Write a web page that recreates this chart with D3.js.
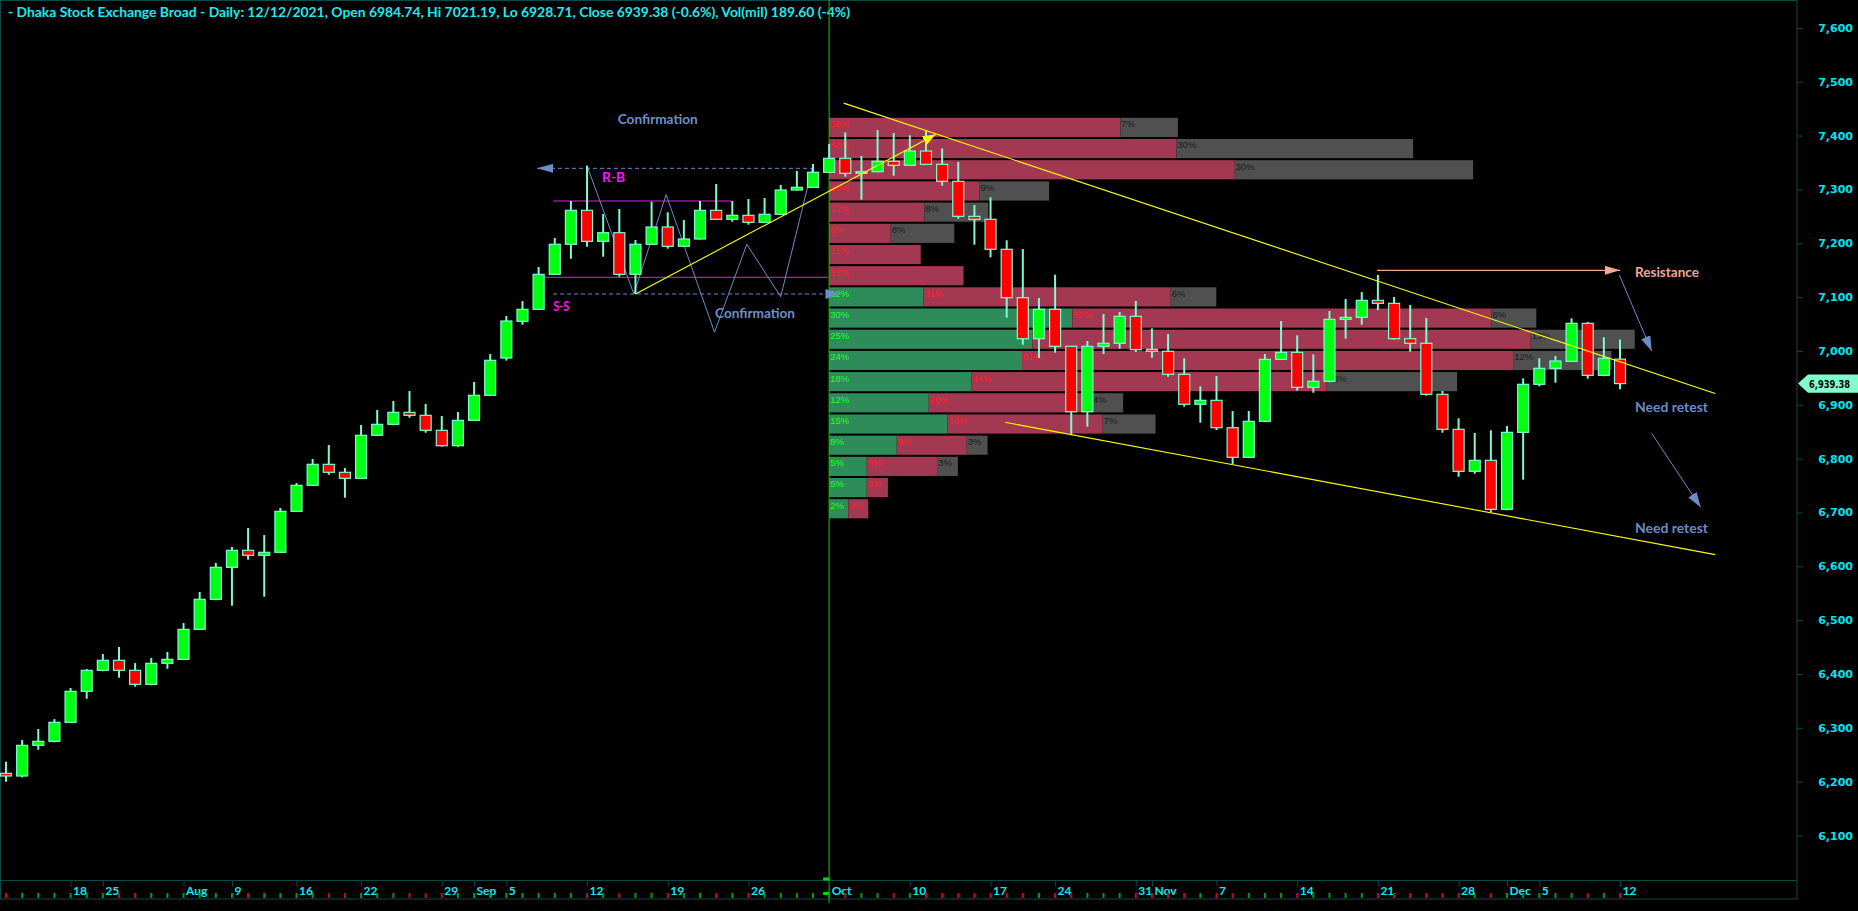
<!DOCTYPE html>
<html><head><meta charset="utf-8">
<script src="https://cdn.jsdelivr.net/npm/d3@7"></script>
<style>
html,body{margin:0;padding:0;background:#000;overflow:hidden}
svg{display:block}
</style></head><body>
<svg id="chart" width="1858" height="911"></svg>
<script>
// ---------------- DATA ----------------
const titleText = "- Dhaka Stock Exchange Broad - Daily: 12/12/2021, Open 6984.74, Hi 7021.19, Lo 6928.71, Close 6939.38 (-0.6%), Vol(mil) 189.60 (-4%)";

const open = [6215.5,6210.5,6267.5,6274.9,6310.2,6367.8,6406.8,6425.4,6406.8,6380.8,
6419.8,6427.2,6482.9,6538.7,6598.1,6629.7,6620.4,6626.0,6702.1,6750.4,
6789.4,6774.6,6763.4,6843.3,6863.7,6886.0,6880.4,6852.6,6824.0,6871.1,
6917.6,6986.8,7055.0,7077.3,7142.3,7198.1,7261.2,7203.6,7219.6,7142.3,
7198.1,7230.2,7194.3,7207.9,7261.2,7244.5,7251.9,7238.9,7253.8,7298.9,
7303.9,7331.8,7357.8,7329.9,7332.9,7352.2,7344.8,7371.3,7346.6,7315.0,
7250.0,7244.5,7188.8,7098.9,7022.7,7077.3,7008.6,6887.1,7008.6,7014.2,
7064.3,7003.0,6999.3,6956.6,6900.9,6908.3,6857.4,6802.4,6869.3,6984.4,
6997.4,6932.4,6943.6,7058.7,7062.4,7094.0,7088.4,7022.7,7014.2,6919.4,
6854.4,6776.4,6796.8,6705.8,6848.8,6938.0,6967.7,6980.7,7051.3,6954.7,
6984.74];
const high = [6237.0,6277.3,6297.8,6316.3,6373.9,6409.2,6437.1,6450.1,6420.3,6429.6,
6440.8,6494.6,6552.2,6606.1,6635.8,6671.1,6658.1,6708.3,6754.7,6799.3,
6825.3,6782.6,6862.4,6890.3,6907.0,6925.6,6901.4,6879.1,6886.5,6942.3,
6994.3,7064.9,7092.7,7155.9,7209.8,7278.5,7344.0,7254.3,7263.6,7206.0,
7277.2,7257.5,7243.2,7278.5,7310.0,7278.5,7282.2,7284.1,7308.2,7334.2,
7347.2,7384.3,7406.1,7362.0,7410.3,7404.8,7400.5,7410.3,7376.3,7350.9,
7271.1,7285.3,7205.5,7189.3,7098.3,7141.6,7009.0,7018.4,7068.6,7072.3,
7092.7,7042.0,7031.4,6986.3,6934.3,6953.4,6888.4,6888.4,6994.3,7055.6,
7029.0,6993.7,7074.2,7096.4,7109.4,7141.0,7100.2,7085.3,7061.2,6925.6,
6874.9,6847.6,6852.6,6860.5,6949.1,6986.3,6990.6,7060.6,7053.7,7025.3,
7021.19];
const low = [6199.9,6208.0,6259.3,6273.0,6309.0,6354.1,6405.0,6393.1,6376.3,6379.0,
6409.7,6426.0,6482.0,6537.0,6526.8,6612.2,6543.5,6625.0,6701.0,6749.0,
6770.1,6727.4,6762.0,6842.0,6862.0,6876.0,6848.1,6822.1,6822.0,6870.0,
6916.0,6982.0,7048.7,7076.0,7141.0,7171.3,7193.6,7175.0,7137.9,7105.8,
7197.0,7189.9,7193.0,7207.0,7243.0,7240.0,7234.5,7238.0,7253.0,7298.0,
7303.0,7331.0,7323.6,7280.9,7332.0,7325.4,7344.0,7346.0,7306.9,7245.6,
7197.3,7173.9,7061.7,7011.5,6986.9,6996.7,6843.8,6859.3,6994.3,7004.0,
6998.0,6987.4,6952.1,6896.4,6866.7,6853.1,6790.0,6801.0,6868.0,6983.0,
6926.1,6922.4,6942.0,7022.7,7048.7,7076.0,7021.0,6998.5,6916.8,6848.1,
6766.4,6771.9,6700.3,6704.0,6760.8,6934.3,6941.0,6980.0,6948.4,6953.0,
6928.71];
const close = [6210.5,6267.5,6274.9,6310.2,6367.8,6406.8,6425.4,6406.8,6380.8,6419.8,
6427.2,6482.9,6538.7,6598.1,6629.7,6620.4,6626.0,6702.1,6750.4,6789.4,
6774.6,6763.4,6843.3,6863.7,6886.0,6880.4,6852.6,6824.0,6871.1,6917.6,
6982.6,7055.6,7077.3,7142.3,7198.1,7261.2,7203.6,7219.6,7142.3,7198.1,
7230.2,7194.3,7207.9,7261.2,7244.5,7251.9,7238.9,7253.8,7298.9,7303.9,
7331.8,7357.8,7329.9,7332.9,7352.2,7344.8,7371.3,7346.6,7315.0,7250.0,
7244.5,7188.8,7098.9,7022.7,7077.3,7008.6,6887.1,7008.6,7014.2,7064.3,
7002.3,6999.3,6956.6,6900.9,6908.3,6857.4,6802.4,6869.3,6984.4,6997.4,
6932.4,6943.6,7058.7,7062.4,7094.0,7088.4,7022.7,7014.2,6919.4,6854.4,
6776.4,6796.8,6705.8,6848.8,6938.0,6967.7,6981.3,7051.3,6954.7,6986.3,
6939.38];

// date axis labels (bar index -> label)
const dateTickIndex = [4,6,11,14,18,22,27,29,31,36,41,46,51,56,61,65,70,71,75,80,85,90,93,95,100];
const dateTickLabel = ["18","25","Aug","9","16","22","29","Sep","5","12","19","26","Oct","10","17","24","31","Nov","7","14","21","28","Dec","5","12"];

// price axis ticks
const priceTicks = [6100,6200,6300,6400,6500,6600,6700,6800,6900,7000,7100,7200,7300,7400,7500,7600];

// volume-at-price profile (% values), rows from the top price level downward
const profileTopPrice = 7433;
const profileRowSize = 39.35;
const profileUp    = [0,0,0,0,0,0,0,0,11.8,30.4,25.4,24.1,17.8,12.45,14.8,8.45,4.7,4.7,2.4];
const profileDown  = [36.4,43.4,50.7,18.8,11.9,7.7,11.45,16.8,30.9,52.4,62.3,61.4,44.4,20.4,19.4,8.75,8.8,2.65,2.5];
const profileOther = [7.2,29.6,29.8,8.7,8.0,7.95,0,0,5.7,5.6,13.0,12.3,16.3,3.9,6.6,2.6,2.6,0,0];
const profileStartIndex = 51;

// annotations in (bar index, price)
const trendUp   = [[39,7105.8],[57.6,7402]];
const trendHigh = [[51.9,7460.3],[105.9,6920.8]];
const trendLow  = [[61.9,6867.5],[105.9,6621.7]];
const zigzag = [[36,7344],[38.9,7105.8],[40.9,7290.2],[43.9,7034.6],[45.9,7198.1],[48,7100.7],[50,7345.4]];
const rbLine = [[32.9,7339.2],[50,7339.2]];
const ssLine = [[33.9,7105.8],[51.7,7105.8]];
const magentaTop = [[33.9,7278.5],[44.96,7278.5]];
const magentaBottom = [[33.27,7136.8],[50.93,7136.8]];
const resistanceLine = [[84.95,7149.8],[100,7149.8]];
const retestArrow1 = [[99.96,7141.0],[101.96,6999.9]];
const retestArrow2 = [[101.96,6847],[105.0,6709.6]];
const labels = [
  {t:"Confirmation", i:37.9, p:7421.6, c:"#6e8fcc", len:80},
  {t:"Confirmation", i:43.93, p:7061, c:"#6e8fcc", len:80},
  {t:"R-B", i:36.93, p:7314.3, c:"#ff10ff", len:23},
  {t:"S-S", i:33.9, p:7074.8, c:"#ff10ff", len:16},
  {t:"Resistance", i:100.93, p:7136.8, c:"#f2a892", len:64},
  {t:"Need retest", i:100.93, p:6887.2, c:"#6a8cc8", len:73},
  {t:"Need retest", i:100.93, p:6662.4, c:"#6a8cc8", len:73}
];

// ---------------- DRAW ----------------
const W = 1858, H = 911;
const plotRight = 1797, plotBottom = 880, axisBottom = 899;
const borderCol = "#0f4848";
const wickCol = "#7dfcd2";

const x = d3.scaleLinear().domain([0,100]).range([6,1620]);
const y = d3.scaleLinear().domain([6100,7600]).range([835.5,27.9]);
const pct = d3.scaleLinear().domain([0,1]).range([0,8.0]);
const line = d3.line().x(d=>x(d[0])).y(d=>y(d[1]));

const svg = d3.select("#chart");
svg.append("rect").attr("width",W).attr("height",H).attr("fill","#000");

const defs = svg.append("defs");
function marker(id, color, len, wid, orient){
  defs.append("marker").attr("id",id).attr("markerUnits","userSpaceOnUse")
    .attr("markerWidth",len).attr("markerHeight",wid)
    .attr("refX",len).attr("refY",wid/2).attr("orient",orient||"auto")
    .attr("viewBox",`0 0 ${len} ${wid}`)
    .append("path").attr("d",`M0,0 L${len},${wid/2} L0,${wid} Z`).attr("fill",color);
}
marker("hYellow","#ffff00",13,10);
marker("hBlue","#6a8cc8",15,10);
marker("hBlueStart","#6a8cc8",16,9,"auto-start-reverse");
marker("hSalmon","#f2a892",15,9);

// frame
const frame = svg.append("g");
frame.append("rect").attr("x",0.5).attr("y",0.5).attr("width",plotRight-0.5).attr("height",axisBottom-0.5)
  .attr("fill","none").attr("stroke",borderCol);
frame.append("line").attr("x1",0).attr("x2",plotRight).attr("y1",plotBottom+0.5).attr("y2",plotBottom+0.5).attr("stroke",borderCol);

// title
svg.append("text").attr("x",8).attr("y",17).text(titleText)
  .attr("fill","#1eeaf0").attr("font-family","Lato, 'Open Sans', sans-serif").attr("font-weight","bold")
  .attr("font-size",12.5).attr("textLength",842).attr("lengthAdjust","spacingAndGlyphs");

// profile
const prof = svg.append("g");
const px0 = x(profileStartIndex);
profileUp.forEach((u,i)=>{
  const top = profileTopPrice - i*profileRowSize;
  const yy = y(top), hh = y(top-profileRowSize) - y(top) - 2;
  const segs = [[u,"#2e8b5a","#22ff22"],[profileDown[i],"#a23852","#ff2424"],[profileOther[i],"#505050","#1c1c1c"]];
  let cx = px0;
  segs.forEach(([v,fill,tc])=>{
    if(!v) return;
    const w = pct(v);
    prof.append("rect").attr("x",cx).attr("y",yy).attr("width",w).attr("height",hh).attr("fill",fill);
    prof.append("text").attr("x",cx+1).attr("y",yy+9.5).text(Math.round(v)+"%")
      .attr("fill",tc).attr("font-family","'Liberation Sans', Arial, sans-serif").attr("font-size",9.5);
    cx += w;
  });
});

// vertical green separator
svg.append("line").attr("x1",x(51)).attr("x2",x(51)).attr("y1",0).attr("y2",903).attr("stroke","#00d000").attr("stroke-width",1);
svg.append("rect").attr("x",x(51)-6).attr("y",877.5).attr("width",6).attr("height",3).attr("fill","#00e000");
svg.append("rect").attr("x",x(51)-6).attr("y",892).attr("width",6).attr("height",3).attr("fill","#00e000");

// magenta and dashed reference lines, zigzag
const ann = svg.append("g").attr("fill","none");
ann.append("path").attr("d",line(magentaTop)).attr("stroke","#e020e0");
ann.append("path").attr("d",line(magentaBottom)).attr("stroke","#e020e0");
ann.append("path").attr("d",line(rbLine)).attr("stroke","#6a8cc8").attr("stroke-dasharray","4,3").attr("marker-start","url(#hBlueStart)");
ann.append("path").attr("d",line(ssLine)).attr("stroke","#6a8cc8").attr("stroke-dasharray","4,3").attr("marker-end","url(#hBlue)");
ann.append("path").attr("d",line(zigzag)).attr("stroke","#6a8cc8").attr("stroke-width",1);

// candles
const idx = d3.range(open.length);
const cg = svg.append("g");
const up = i => close[i] >= open[i];
cg.selectAll("line.w").data(idx).join("line").attr("class","w")
  .attr("x1",i=>x(i)).attr("x2",i=>x(i)).attr("y1",i=>y(high[i])).attr("y2",i=>y(low[i]))
  .attr("stroke",wickCol).attr("stroke-width",2);
cg.selectAll("rect.b").data(idx).join("rect").attr("class","b")
  .attr("x",i=>x(i)-5.5).attr("width",11)
  .attr("y",i=>y(Math.max(open[i],close[i])))
  .attr("height",i=>Math.max(1.5, Math.abs(y(open[i])-y(close[i]))))
  .attr("fill",i=>up(i)?"#00ff12":"#ff0000").attr("stroke",wickCol).attr("stroke-width",1.2);

// trend lines on top
const tl = svg.append("g").attr("fill","none").attr("stroke","#ffff00").attr("stroke-width",1.1);
tl.append("path").attr("d",line(trendUp)).attr("marker-end","url(#hYellow)");
tl.append("path").attr("d",line(trendHigh));
tl.append("path").attr("d",line(trendLow));

// right-side annotations
ann.append("path").attr("d",line(resistanceLine)).attr("stroke","#f2a892").attr("stroke-width",1.3).attr("marker-end","url(#hSalmon)");
const ann2 = svg.append("g").attr("fill","none");
ann2.append("path").attr("d",line(retestArrow1)).attr("stroke","#6a8cc8").attr("marker-end","url(#hBlue)");
ann2.append("path").attr("d",line(retestArrow2)).attr("stroke","#6a8cc8").attr("marker-end","url(#hBlue)");

svg.append("g").selectAll("text").data(labels).join("text")
  .attr("x",d=>x(d.i)).attr("y",d=>y(d.p)).text(d=>d.t)
  .attr("fill",d=>d.c).attr("font-family","Lato, 'Open Sans', sans-serif").attr("font-weight","bold")
  .attr("font-size",14).attr("textLength",d=>d.len).attr("lengthAdjust","spacingAndGlyphs");

// date axis
const xAxis = d3.axisBottom(x).tickValues(dateTickIndex).tickFormat((d,i)=>dateTickLabel[i]).tickSize(6).tickSizeOuter(0);
const xg = svg.append("g").attr("transform",`translate(0,${plotBottom+0.5})`).call(xAxis);
xg.select(".domain").remove();
xg.selectAll(".tick line").attr("stroke",borderCol);
xg.selectAll(".tick text").attr("x",2).attr("y",14).attr("dy",0).attr("text-anchor","start")
  .attr("fill","#10e8f2").attr("font-family","Lato, 'Open Sans', sans-serif").attr("font-weight","bold").attr("font-size",12);
// daily ticks coloured by candle direction
svg.append("g").selectAll("line").data(idx).join("line")
  .attr("x1",i=>x(i)).attr("x2",i=>x(i)).attr("y1",893).attr("y2",898)
  .attr("stroke",i=>up(i)?"#00a000":"#e00000").attr("stroke-width",2);

// price axis
const yAxis = d3.axisRight(y).tickValues(priceTicks).tickFormat(d3.format(",")).tickSize(6).tickSizeOuter(0);
const yg = svg.append("g").attr("transform",`translate(${plotRight},0)`).call(yAxis);
yg.select(".domain").remove();
yg.selectAll(".tick line").attr("stroke",borderCol);
yg.selectAll(".tick text").attr("x",56).attr("text-anchor","end")
  .attr("fill","#00e4f0").attr("font-family","'DejaVu Sans', Verdana, sans-serif").attr("font-weight","bold").attr("font-size",11);

// last price tag
const lastY = y(close[close.length-1]);
svg.append("path").attr("d",`M${plotRight+1},${lastY} L${plotRight+11},${lastY-9.2} L${W},${lastY-9.2} L${W},${lastY+9.2} L${plotRight+11},${lastY+9.2} Z`)
  .attr("fill","#80ffcc");
svg.append("text").attr("x",plotRight+12).attr("y",lastY+4).text(d3.format(",.2f")(close[close.length-1]))
  .attr("fill","#000").attr("font-family","'DejaVu Sans', Verdana, sans-serif").attr("font-weight","bold").attr("font-size",10)
  .attr("textLength",41).attr("lengthAdjust","spacingAndGlyphs");
</script>
</body></html>
